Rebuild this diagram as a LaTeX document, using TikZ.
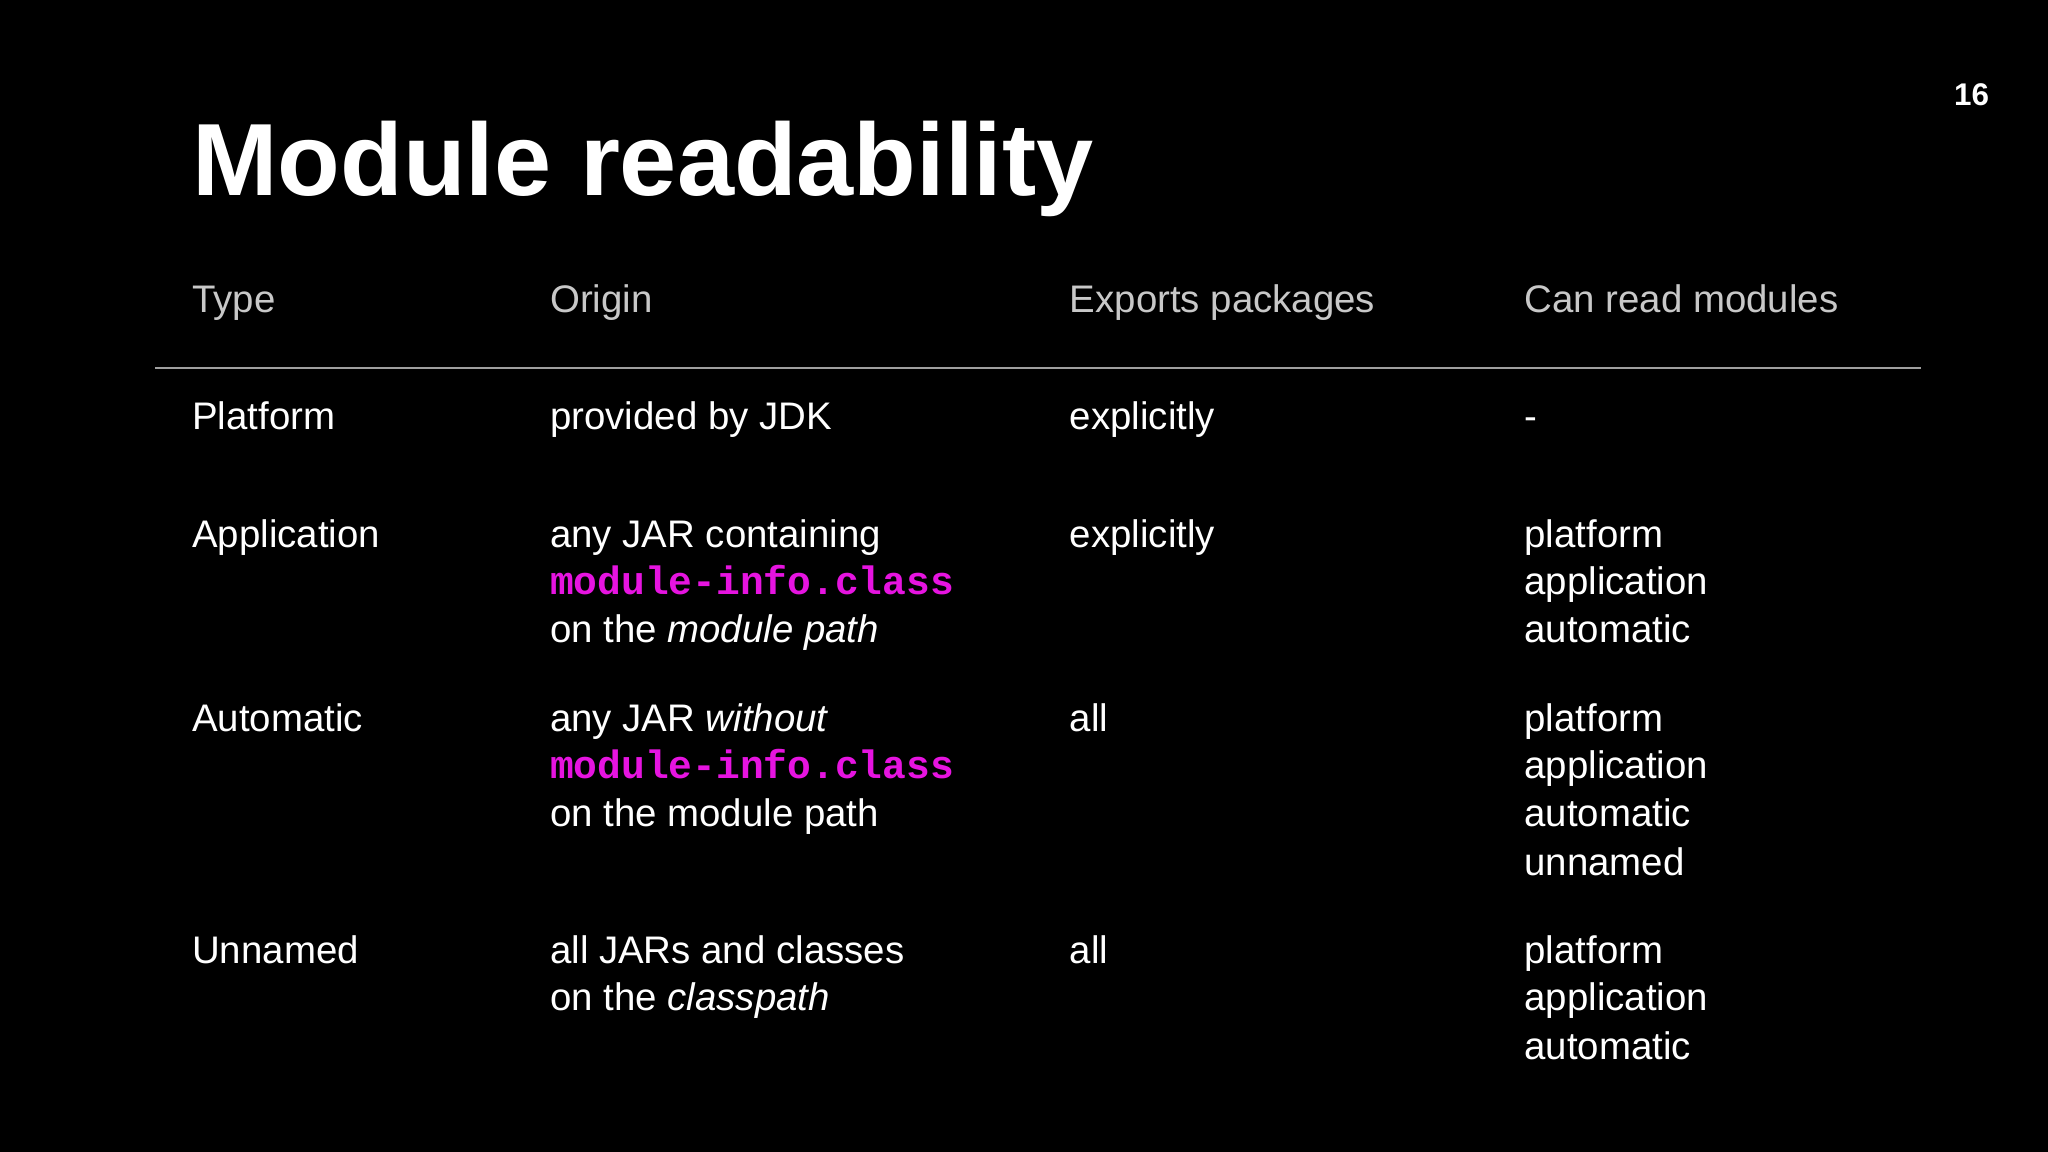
\documentclass[tikz,border=0pt]{standalone}
\usepackage{fontspec}
\setmainfont{Liberation Sans}
\newfontfamily\monob{Liberation Mono}
\definecolor{pink}{HTML}{E614E0}
\definecolor{hdr}{HTML}{C8C8C8}
\begin{document}
\begin{tikzpicture}[x=1pt,y=-1pt,
  t/.style={anchor=base west,inner sep=0pt,text=white,font=\fontsize{29.4}{34}\selectfont},
  h/.style={t,text=hdr},
  cd/.style={t,text=pink,font=\fontsize{30.3}{34}\monob\bfseries}]
\fill[black] (0,0) rectangle (1568,882);
\useasboundingbox (0,0) rectangle (1568,882);
\node[t,font=\fontsize{78.6}{90}\selectfont\bfseries] (title) at (147,150) {Module readability};
\node[t,font=\fontsize{24}{28}\selectfont\bfseries] (pg) at (1496,81) {16};
\node[h] (h1) at (147,239) {Type};
\node[h] (h2) at (421,239) {Origin};
\node[h] (h3) at (819,239) {Exports packages};
\node[h] (h4) at (1167,239) {Can read modules};
\draw[gray!75,line width=1.5pt] (119,282) -- (1471,282);
% Platform
\node[t] (p1) at (147,329) {Platform};
\node[t] (p2) at (421,329) {provided by JDK};
\node[t] (p3) at (819,329) {explicitly};
\node[t] (p4) at (1167,329) {-};
% Application
\node[t] (a1) at (147,419) {Application};
\node[t] (a2) at (421,419) {any JAR containing};
\node[cd] (a2b) at (421,455) {module-info.class};
\node[t] (a2c) at (421,492) {on the \textit{module path}};
\node[t] (a3) at (819,419) {explicitly};
\node[t] (a4) at (1167,419) {platform};
\node[t] (a4b) at (1167,455) {application};
\node[t] (a4c) at (1167,492) {automatic};
% Automatic
\node[t] (m1) at (147,560) {Automatic};
\node[t] (m2) at (421,560) {any JAR \textit{without}};
\node[cd] (m2b) at (421,596) {module-info.class};
\node[t] (m2c) at (421,633) {on the module path};
\node[t] (m3) at (819,560) {all};
\node[t] (m4) at (1167,560) {platform};
\node[t] (m4b) at (1167,596) {application};
\node[t] (m4c) at (1167,633) {automatic};
\node[t] (m4d) at (1167,670) {unnamed};
% Unnamed
\node[t] (u1) at (147,738) {Unnamed};
\node[t] (u2) at (421,738) {all JARs and classes};
\node[t] (u2b) at (421,774) {on the \textit{classpath}};
\node[t] (u3) at (819,738) {all};
\node[t] (u4) at (1167,738) {platform};
\node[t] (u4b) at (1167,774) {application};
\node[t] (u4c) at (1167,811) {automatic};
\end{tikzpicture}
\end{document}
